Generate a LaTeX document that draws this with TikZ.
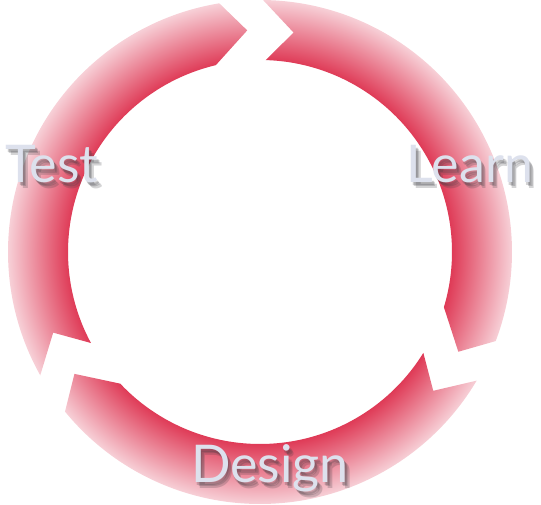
\documentclass[tikz,border=0pt]{standalone}
\usepackage{fontspec}
\setmainfont{Lato}
\usepackage{xcolor}
\definecolor{ringdark}{HTML}{DF3B57}
\definecolor{ringlight}{HTML}{F7D0D7}
\definecolor{labelink}{HTML}{DDE1ED}
\definecolor{shadowink}{HTML}{3A3A40}
\usepackage{tikz}
\usetikzlibrary{positioning}
\pgfdeclareradialshading{ringshade}{\pgfpointorigin}{%
  color(0bp)=(ringdark); color(19.05bp)=(ringdark); color(25bp)=(ringlight);
  color(50bp)=(ringlight)}

\begin{document}
\begin{tikzpicture}[
    x=1pt, y=1pt,
    lbl/.style={font=\fontsize{52}{62}\selectfont, text=labelink,
                inner sep=0pt, anchor=base},
    shadowlbl/.style={lbl, text=shadowink, text opacity=0.22}]
  \useasboundingbox (-260,-253) rectangle (281,252);
  % three chevron arcs, shaded together as one ring
  \begin{scope}
    \clip \foreach \s in {209.3, 89.3, -30.7} {
      (\s:252pt) arc[start angle=\s, end angle=\s-110, radius=252pt]
      -- ({\s-116}:222pt) -- ({\s-106}:192pt)
      arc[start angle=\s-106, end angle=\s-1, radius=192pt]
      -- ({\s-8}:222pt) -- cycle};
    \shade[shading=ringshade] (0,0) circle (252pt);
  \end{scope}
  \coordinate (test-at) at (-208,69);
  \coordinate (learn-at) at (210,69);
  \coordinate (design-at) at (10,-231);
  \foreach \name/\txt in {test/Test, learn/Learn, design/Design} {
    \foreach \dx/\dy in {1.5/-2.5, 3/-4, 4.5/-5.5}
      \node[shadowlbl] at ([shift={(\dx,\dy)}]\name-at) {\txt};
    \node[lbl] (\name) at (\name-at) {\txt};
  }
\end{tikzpicture}
\end{document}
